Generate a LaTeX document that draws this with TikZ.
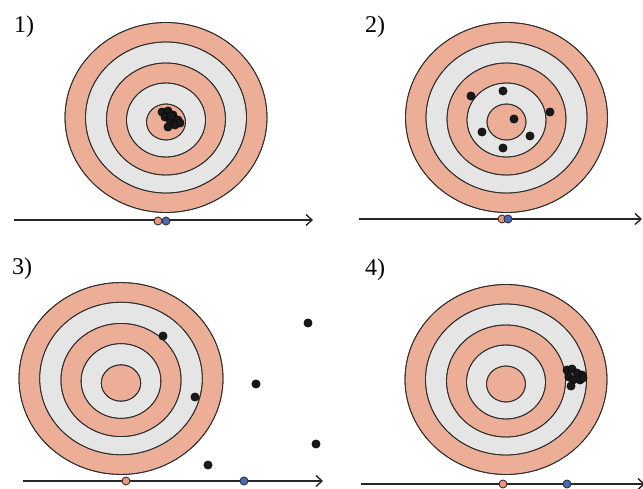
\documentclass[tikz,border=0pt]{standalone}
\usepackage{fontspec}
\setmainfont{Liberation Serif}
\usetikzlibrary{arrows.meta}
\definecolor{salmon}{RGB}{236,174,151}
\definecolor{ringgray}{RGB}{229,229,229}
\definecolor{ringline}{RGB}{45,45,45}
\definecolor{dotorange}{RGB}{236,150,120}
\definecolor{dotblue}{RGB}{70,105,190}
\tikzset{
  ring/.style={draw=ringline, line width=0.8pt},
  axisline/.style={draw=black!85, line width=1.7pt, -{Straight Barb[length=6pt,width=11pt,line width=1.4pt]}},
  hit/.style={fill=black!90, draw=black},
  meanA/.style={fill=dotorange, draw=black!80, line width=0.9pt},
  meanB/.style={fill=dotblue, draw=black!80, line width=0.9pt},
  lbl/.style={anchor=base west, inner sep=0pt, font=\fontsize{24}{27}\selectfont}
}
\newcommand\mytarget[3]{%
  \fill[ring, fill=salmon] (#1,#2) ellipse [x radius=101*#3, y radius=95*#3];
  \fill[ring, fill=ringgray] (#1,#2) ellipse [x radius=80.5*#3, y radius=75.5*#3];
  \fill[ring, fill=salmon] (#1,#2+1.5) ellipse [x radius=59.5*#3, y radius=56*#3];
  \fill[ring, fill=ringgray] (#1,#2+2.5) ellipse [x radius=39.5*#3, y radius=37*#3];
  \fill[ring, fill=salmon] (#1,#2+4.5) ellipse [x radius=19.5*#3, y radius=18*#3];
  \draw[ring] (#1,#2) ellipse [x radius=101*#3, y radius=95*#3];
  \draw[ring] (#1,#2) ellipse [x radius=80.5*#3, y radius=75.5*#3];
  \draw[ring] (#1,#2+1.5) ellipse [x radius=59.5*#3, y radius=56*#3];
  \draw[ring] (#1,#2+2.5) ellipse [x radius=39.5*#3, y radius=37*#3];
  \draw[ring] (#1,#2+4.5) ellipse [x radius=19.5*#3, y radius=18*#3];
}
\begin{document}
\begin{tikzpicture}[x=1pt,y=-1pt]
\useasboundingbox (0,0) rectangle (643,489);
\fill[white] (0,0) rectangle (643,489);

% labels
\node[lbl] (l1) at (14,33) {1)};
\node[lbl] (l2) at (365,33) {2)};
\node[lbl] (l3) at (12,275) {3)};
\node[lbl] (l4) at (365,276) {4)};

% targets
\mytarget{166}{117.5}{1}
\mytarget{506.5}{117.5}{1}
\mytarget{121}{378.5}{1.01}
\mytarget{506}{379.5}{1}

% axes
\coordinate (a1s) at (14,220);  \coordinate (a1e) at (313,220);
\coordinate (a2s) at (359,219); \coordinate (a2e) at (642,219);
\coordinate (a3s) at (23,481);  \coordinate (a3e) at (323,481);
\coordinate (a4s) at (361,484); \coordinate (a4e) at (645,484);
\draw[axisline] (a1s) -- (a1e);
\draw[axisline] (a2s) -- (a2e);
\draw[axisline] (a3s) -- (a3e);
\draw[axisline] (a4s) -- (a4e);

% hits 1
\foreach \x/\y in {162/112,168/111,173/115,165/117,170/120,178/120,175/125,168/127,180/123,171/116}
  \fill[hit] (\x,\y) circle (4.2);
% hits 2
\foreach \x/\y in {471/96,503/91,550/112,514/119,482/132,530/136,503/148}
  \fill[hit] (\x,\y) circle (4.2);
% hits 3
\foreach \x/\y in {163/336,195/397,256/384,308/323,316/444,208/465}
  \fill[hit] (\x,\y) circle (4.2);
% hits 4
\foreach \x/\y in {567/370,572/369,577/373,582/375,569/377,573/380,580/380,571/386,583/378}
  \fill[hit] (\x,\y) circle (4.2);

% means
\filldraw[meanA] (158,221) circle (4);
\filldraw[meanB] (166,221) circle (4);
\filldraw[meanA] (502,219) circle (4);
\filldraw[meanB] (508,219) circle (4);
\filldraw[meanA] (126,481) circle (4);
\filldraw[meanB] (244,481) circle (4);
\filldraw[meanA] (503,484) circle (4);
\filldraw[meanB] (567,484) circle (4);
\end{tikzpicture}
\end{document}
